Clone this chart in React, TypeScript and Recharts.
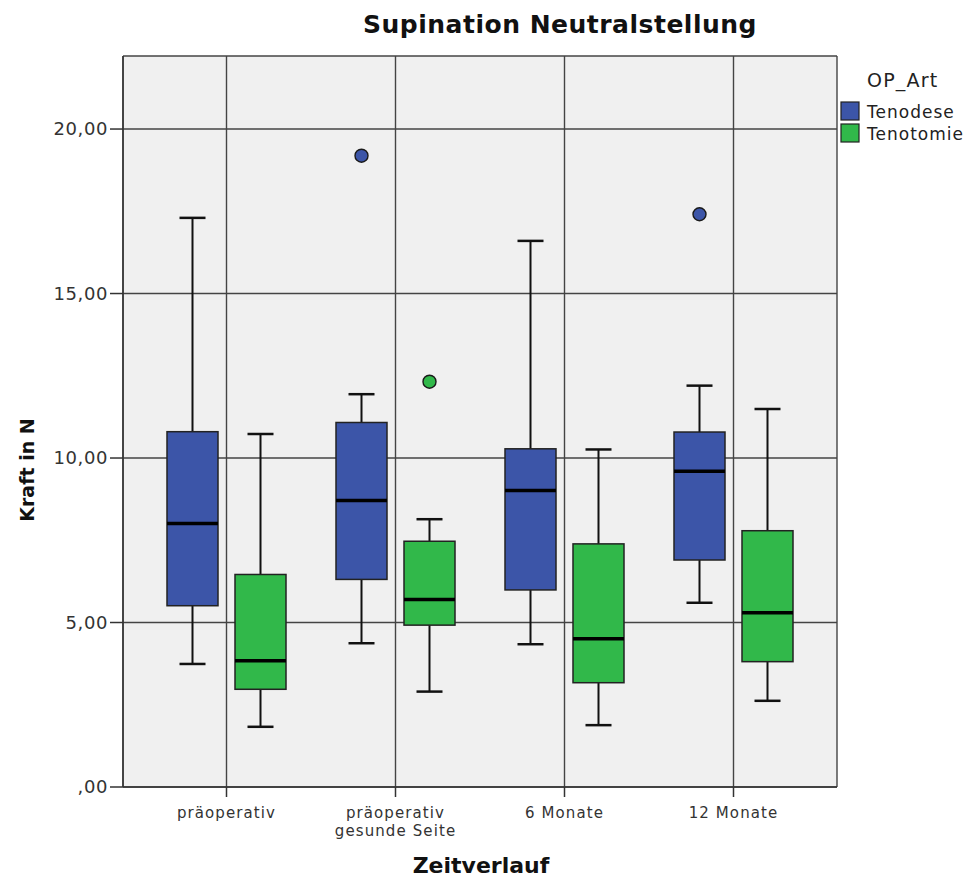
import { ComposedChart, Bar, XAxis, YAxis, CartesianGrid, Legend } from "recharts";

const CATEGORIES = ["präoperativ", "präoperativ\ngesunde Seite", "6 Monate", "12 Monate"];
const Y_TICKS = [0, 5, 10, 15, 20];

// Tenodese
const TENODESE_MIN = [3.74, 4.37, 4.34, 5.6];
const TENODESE_Q1 = [5.51, 6.31, 5.99, 6.9];
const TENODESE_MEDIAN = [8.01, 8.71, 9.01, 9.6];
const TENODESE_Q3 = [10.8, 11.08, 10.28, 10.79];
const TENODESE_MAX = [17.3, 11.94, 16.6, 12.2];
const TENODESE_OUTLIERS: number[][] = [[], [19.19], [], [17.41]];

// Tenotomie
const TENOTOMIE_MIN = [1.83, 2.9, 1.88, 2.62];
const TENOTOMIE_Q1 = [2.97, 4.92, 3.17, 3.81];
const TENOTOMIE_MEDIAN = [3.84, 5.7, 4.51, 5.3];
const TENOTOMIE_Q3 = [6.46, 7.47, 7.39, 7.79];
const TENOTOMIE_MAX = [10.73, 8.14, 10.26, 11.49];
const TENOTOMIE_OUTLIERS: number[][] = [[], [12.32], [], []];

const BLUE = "#3c55a8";
const GREEN = "#31b84a";

const data = CATEGORIES.map((name, i) => ({
  name,
  tenodese: [TENODESE_MIN[i], TENODESE_MAX[i]],
  tenodeseStats: {
    min: TENODESE_MIN[i],
    q1: TENODESE_Q1[i],
    median: TENODESE_MEDIAN[i],
    q3: TENODESE_Q3[i],
    max: TENODESE_MAX[i],
    outliers: TENODESE_OUTLIERS[i],
  },
  tenotomie: [TENOTOMIE_MIN[i], TENOTOMIE_MAX[i]],
  tenotomieStats: {
    min: TENOTOMIE_MIN[i],
    q1: TENOTOMIE_Q1[i],
    median: TENOTOMIE_MEDIAN[i],
    q3: TENOTOMIE_Q3[i],
    max: TENOTOMIE_MAX[i],
    outliers: TENOTOMIE_OUTLIERS[i],
  },
}));

const FONT = "'DejaVu Sans', sans-serif";

function BoxShape(props: any) {
  const { x, y, width, height, payload, statsKey, fill } = props;
  const s = payload[statsKey];
  const top = Math.min(y, y + height);
  const k = Math.abs(height) / (s.max - s.min);
  const py = (v: number) => top + (s.max - v) * k;
  const cx = x + width / 2;
  const cap = 13;
  return (
    <g>
      <line x1={cx} x2={cx} y1={py(s.max)} y2={py(s.q3)} stroke="#111" strokeWidth={2} />
      <line x1={cx} x2={cx} y1={py(s.q1)} y2={py(s.min)} stroke="#111" strokeWidth={2} />
      <line x1={cx - cap} x2={cx + cap} y1={py(s.max)} y2={py(s.max)} stroke="#111" strokeWidth={2.5} />
      <line x1={cx - cap} x2={cx + cap} y1={py(s.min)} y2={py(s.min)} stroke="#111" strokeWidth={2.5} />
      <rect
        x={x}
        y={py(s.q3)}
        width={width}
        height={py(s.q1) - py(s.q3)}
        fill={fill}
        stroke="#222"
        strokeWidth={1.5}
      />
      <line x1={x} x2={x + width} y1={py(s.median)} y2={py(s.median)} stroke="#000" strokeWidth={3.5} />
      {s.outliers.map((o: number, j: number) => (
        <circle key={j} cx={cx} cy={py(o)} r={6.5} fill={fill} stroke="#1a1a1a" strokeWidth={1.4} />
      ))}
    </g>
  );
}

function XTick(props: any) {
  const { x, y, payload } = props;
  const lines = String(payload.value).split("\n");
  return (
    <text x={x} y={y} textAnchor="middle" fill="#333" fontSize={15} letterSpacing={1.1} fontFamily={FONT}>
      {lines.map((l, i) => (
        <tspan key={i} x={x} dy={i === 0 ? 19 : 17.6}>
          {l}
        </tspan>
      ))}
    </text>
  );
}

const fmt = (v: number) => (v === 0 ? ",00" : v.toFixed(2).replace(".", ","));

function LegendBox() {
  return (
    <svg width={141} height={90} style={{ fontFamily: FONT }}>
      <text x={37} y={27} fontSize={19} letterSpacing={1.2} fill="#222">
        OP_Art
      </text>
      <rect x={11} y={42} width={18} height={18} fill={BLUE} stroke="#222" strokeWidth={1.2} />
      <text x={37} y={58} fontSize={17} letterSpacing={1} fill="#222">
        Tenodese
      </text>
      <rect x={11} y={64} width={18} height={18} fill={GREEN} stroke="#222" strokeWidth={1.2} />
      <text x={37} y={80} fontSize={17} letterSpacing={1} fill="#222">
        Tenotomie
      </text>
    </svg>
  );
}

export default function App() {
  return (
    <div style={{ position: "absolute", left: 0, top: 0, width: 971, height: 881, background: "#fff", fontFamily: FONT }}>
      <svg width={971} height={50} style={{ position: "absolute", left: 0, top: 0 }}>
        <text x={560} y={33} textAnchor="middle" fontSize={25} fontWeight="bold" letterSpacing={0.5} fill="#111" fontFamily={FONT}>
          Supination Neutralstellung
        </text>
      </svg>
      <ComposedChart
        width={971}
        height={881}
        data={data}
        margin={{ top: 56, left: 8, right: 134, bottom: 34 }}
        barSize={51}
        barGap={17}
        style={{ position: "absolute", left: 0, top: 0 }}
      >
        <CartesianGrid fill="#f0f0f0" stroke="#444" strokeWidth={1.4} />
        <XAxis
          dataKey="name"
          height={60}
          tick={<XTick />}
          tickSize={10}
          interval={0}
          padding={{ left: 19, right: 19 }}
          stroke="#333"
          strokeWidth={1.5}
          label={{
            content: () => (
              <text x={481} y={873} textAnchor="middle" fontSize={22} fontWeight="bold" fill="#111" fontFamily={FONT}>
                Zeitverlauf
              </text>
            ),
          }}
        />
        <XAxis xAxisId="top" dataKey="name" orientation="top" height={0} tick={false} tickLine={false} stroke="#333" strokeWidth={1.5} />
        <YAxis
          domain={[0, 22.22]}
          ticks={Y_TICKS}
          width={115}
          tickSize={13}
          tickFormatter={fmt}
          tick={{ fontSize: 18, fill: "#333", letterSpacing: 0.6, fontFamily: FONT }}
          stroke="#333"
          strokeWidth={1.5}
          allowDataOverflow
          label={{
            content: () => (
              <text
                x={34}
                y={470}
                transform="rotate(-90, 34, 470)"
                textAnchor="middle"
                fontSize={19}
                fontWeight="bold"
                fill="#111"
                fontFamily={FONT}
              >
                Kraft in N
              </text>
            ),
          }}
        />
        <YAxis yAxisId="right" orientation="right" width={0} domain={[0, 22.22]} tick={false} tickLine={false} stroke="#333" strokeWidth={1.5} />
        <Legend
          layout="vertical"
          align="center"
          verticalAlign="middle"
          wrapperStyle={{ left: 830, top: 60, width: 141 }}
          content={() => <LegendBox />}
        />
        <Bar
          dataKey="tenodese"
          name="Tenodese"
          fill={BLUE}
          isAnimationActive={false}
          shape={(p: any) => <BoxShape {...p} statsKey="tenodeseStats" fill={BLUE} />}
        />
        <Bar
          dataKey="tenotomie"
          name="Tenotomie"
          fill={GREEN}
          isAnimationActive={false}
          shape={(p: any) => <BoxShape {...p} statsKey="tenotomieStats" fill={GREEN} />}
        />
      </ComposedChart>
    </div>
  );
}
